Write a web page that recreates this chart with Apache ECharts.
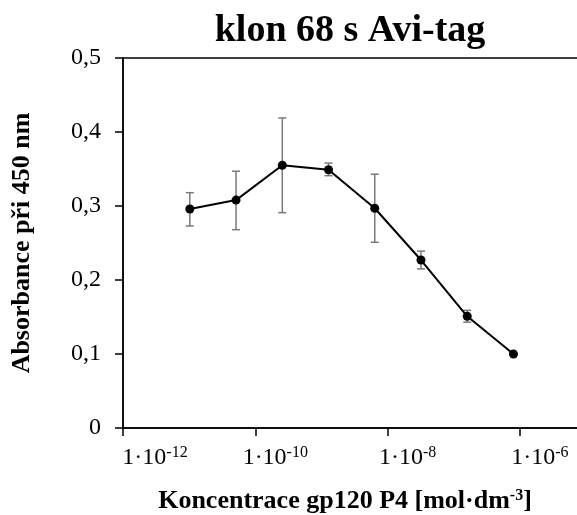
<!DOCTYPE html>
<html><head><meta charset="utf-8">
<script src="https://cdn.jsdelivr.net/npm/echarts@6/dist/echarts.min.js"></script>
<style>html,body{margin:0;padding:0;background:#fff}#c{width:577px;height:515px}</style>
</head><body><div id="c"></div>
<script>
var concentrations = [1.024e-11, 5.12e-11, 2.56e-10, 1.28e-9, 6.4e-9, 3.2e-8, 1.6e-7, 8e-7];
var absorbance = [0.296, 0.308, 0.355, 0.349, 0.297, 0.227, 0.151, 0.100];
var errLow = [0.273, 0.268, 0.291, 0.341, 0.251, 0.215, 0.143, 0.099];
var errHigh = [0.318, 0.347, 0.419, 0.358, 0.343, 0.239, 0.159, 0.101];
var yTicks = [0, 0.1, 0.2, 0.3, 0.4, 0.5];

var FONT = '"Liberation Serif", "Times New Roman", serif';
var chart = echarts.init(document.getElementById('c'));
var lineData = concentrations.map(function (c, i) { return [c, absorbance[i]]; });
var errData = concentrations.map(function (c, i) { return [c, errLow[i], errHigh[i]]; });

chart.setOption({
  animation: false,
  backgroundColor: '#fff',
  title: [{
    text: 'klon 68 s Avi-tag', left: 345, top: 6, textAlign: 'center',
    textStyle: { fontFamily: FONT, fontWeight: 'bold', fontSize: 38, color: '#000', lineHeight: 40 }
  }, {
    text: '{a|Koncentrace gp120 P4 [mol·dm}{s|-3}{a|]}', left: 340, top: 482, textAlign: 'center',
    textStyle: { rich: {
      a: { fontFamily: FONT, fontWeight: 'bold', fontSize: 26, color: '#000', lineHeight: 28 },
      s: { fontFamily: FONT, fontWeight: 'bold', fontSize: 16, color: '#000', padding: [0, 0, 11, 0] }
    } }
  }],
  grid: { left: 123, top: 58, width: 463, height: 370, outerBoundsMode: 'none', containLabel: false,
    show: true, borderColor: '#000', borderWidth: 1.5, backgroundColor: 'transparent' },
  xAxis: {
    type: 'log', logBase: 10, min: 1e-12, max: 1e-5, interval: 2,
    axisLine: { lineStyle: { color: '#000', width: 1.5 } },
    axisTick: { show: true, length: 8, lineStyle: { color: '#000', width: 1.5 } },
    splitLine: { show: false },
    axisLabel: {
      margin: 17,
      formatter: function (v) {
        var e = Math.round(Math.log10(v));
        if (e % 2 !== 0) return '';
        return (e === -12 ? '{q| }' : '{p| }') + '{a|1·10}{s|' + e + '}';
      },
      rich: {
        p: { width: 40, fontSize: 10 },
        q: { width: 64, fontSize: 10 },
        a: { fontFamily: FONT, fontSize: 24, color: '#000', lineHeight: 26 },
        s: { fontFamily: FONT, fontSize: 16, color: '#000', padding: [0, 0, 10, 0] }
      }
    }
  },
  yAxis: {
    type: 'value', min: 0, max: 0.5, interval: 0.1,
    name: 'Absorbance při 450 nm', nameLocation: 'middle', nameGap: 88, nameRotate: 90,
    nameTextStyle: { fontFamily: FONT, fontWeight: 'bold', fontSize: 26, color: '#000' },
    axisLine: { show: true, lineStyle: { color: '#000', width: 1.5 } },
    axisTick: { show: true, length: 8, lineStyle: { color: '#000', width: 1.5 } },
    splitLine: { show: false },
    axisLabel: {
      margin: 22, fontFamily: FONT, fontSize: 24, color: '#000',
      formatter: function (v) {
        var i = yTicks.indexOf(Math.round(v * 10) / 10);
        var t = yTicks[i] === 0 ? '0' : yTicks[i].toFixed(1);
        return t.replace('.', ',');
      }
    }
  },
  series: [{
    type: 'custom',
    data: errData,
    z: 1,
    renderItem: function (params, api) {
      var x = api.value(0);
      var lo = api.coord([x, api.value(1)]);
      var hi = api.coord([x, api.value(2)]);
      var w = 4;
      var st = { stroke: '#7a7a7a', lineWidth: 1.5 };
      return { type: 'group', children: [
        { type: 'line', shape: { x1: lo[0], y1: lo[1], x2: hi[0], y2: hi[1] }, style: st },
        { type: 'line', shape: { x1: lo[0] - w, y1: lo[1], x2: lo[0] + w, y2: lo[1] }, style: st },
        { type: 'line', shape: { x1: hi[0] - w, y1: hi[1], x2: hi[0] + w, y2: hi[1] }, style: st }
      ] };
    }
  }, {
    type: 'line', data: lineData, z: 3,
    symbol: 'circle', symbolSize: 9,
    itemStyle: { color: '#000' },
    lineStyle: { color: '#000', width: 2 }
  }]
});
</script></body></html>
